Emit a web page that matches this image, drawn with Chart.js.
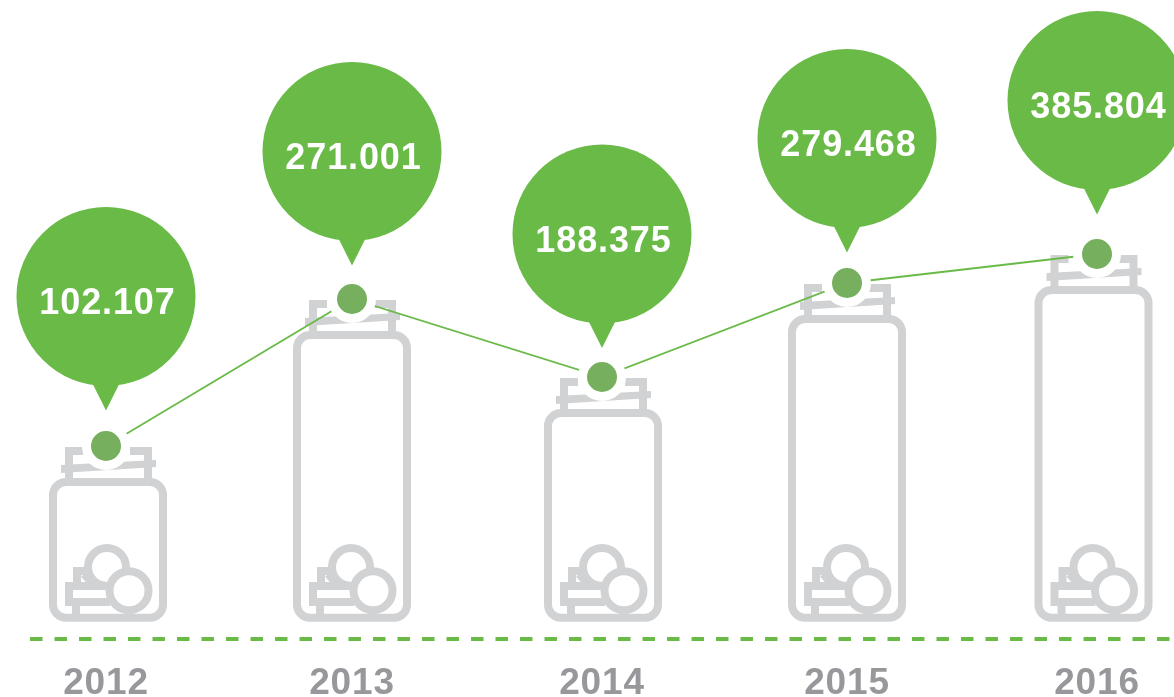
<!DOCTYPE html>
<html><head><meta charset="utf-8">
<style>html,body{margin:0;padding:0;background:#fff;overflow:hidden}canvas{display:block}</style>
<script src="https://cdn.jsdelivr.net/npm/chart.js@4"></script>
</head><body><canvas id="c" width="1174" height="697"></canvas>
<script>
const years = [2012, 2013, 2014, 2015, 2016];
const amounts = [102.107, 271.001, 188.375, 279.468, 385.804];
// The source graphic is not to scale: how high each amount sits above the dashed baseline.
const drawnHeights = [193, 340, 262, 356, 385];
const yearStops = [76, 322, 572, 817, 1067];
const balloonLift = [149.5, 147.5, 143, 144.5, 153.5];
const jarShift = [2, 0, 1, 0, -3.5];

const GREEN = '#6aba48', DOT = '#76b05e', JAR = '#d1d2d4', LABEL = '#98989c';
const AREA_H = 639, AREA_W = 1144;

class KnotScale extends Chart.LinearScale {
  static id = 'knot';
  static defaults = Chart.LinearScale.defaults;
  getPixelForValue(v) {
    const k = this.options.knots;
    let d = k[k.length - 1][1];
    if (v <= k[0][0]) d = k[0][1];
    for (let i = 1; i < k.length; i++) {
      if (v <= k[i][0] && v >= k[i - 1][0]) {
        d = k[i - 1][1] + (v - k[i - 1][0]) / (k[i][0] - k[i - 1][0]) * (k[i][1] - k[i - 1][1]);
        break;
      }
    }
    return this.getPixelForDecimal(d);
  }
}
Chart.register(KnotScale);

const xKnots = years.map((y, i) => [y, yearStops[i] / AREA_W]);
const yKnots = [[0, 0]].concat(amounts.map((a, i) => [a, drawnHeights[i] / AREA_H]).sort((p, q) => p[0] - q[0]));

function drawJar(ctx, cx, py) {
  const bottom = 617.7, top = py + 36;
  ctx.save();
  ctx.strokeStyle = JAR; ctx.fillStyle = JAR; ctx.lineWidth = 8;
  // neck posts and stubs
  ctx.beginPath();
  ctx.moveTo(cx - 25, py + 5); ctx.lineTo(cx - 39, py + 5); ctx.lineTo(cx - 39, top);
  ctx.moveTo(cx + 22, py + 5); ctx.lineTo(cx + 40, py + 5); ctx.lineTo(cx + 40, top);
  ctx.stroke();
  // slanted lip
  ctx.beginPath();
  ctx.moveTo(cx - 47, py + 19); ctx.lineTo(cx + 48, py + 14);
  ctx.lineTo(cx + 48, py + 21); ctx.lineTo(cx - 47, py + 27); ctx.closePath(); ctx.fill();
  // body
  ctx.beginPath(); ctx.roundRect(cx - 55, top, 110, bottom - top, 13); ctx.stroke();
  // upper coin
  ctx.beginPath(); ctx.arc(cx - 1, 567, 19, 0, Math.PI * 2); ctx.stroke();
  // stacked bars
  ctx.beginPath();
  ctx.moveTo(cx - 31, 582); ctx.lineTo(cx - 31, 571); ctx.lineTo(cx - 21, 571);
  ctx.moveTo(cx - 24, 574); ctx.lineTo(cx - 13, 586);
  ctx.stroke();
  ctx.beginPath();
  ctx.moveTo(cx + 2, 586); ctx.lineTo(cx - 39, 586); ctx.lineTo(cx - 39, 602); ctx.lineTo(cx + 2, 602);
  ctx.moveTo(cx - 32, 606); ctx.lineTo(cx - 32, 618);
  ctx.stroke();
  // front coin
  ctx.beginPath(); ctx.arc(cx + 21, 590.7, 19.5, 0, Math.PI * 2);
  ctx.fillStyle = '#fff'; ctx.fill(); ctx.stroke();
  ctx.restore();
}

function drawBalloon(ctx, x, py, lift, text) {
  const cy = py - lift, r = 89.5, tip = cy + 114;
  ctx.save();
  ctx.fillStyle = GREEN;
  ctx.beginPath(); ctx.arc(x, cy, r, 0, Math.PI * 2); ctx.fill();
  ctx.beginPath(); ctx.moveTo(x - 15, cy + 84); ctx.lineTo(x, tip); ctx.lineTo(x + 15, cy + 84); ctx.closePath(); ctx.fill();
  ctx.fillStyle = '#fff';
  ctx.font = 'bold 36px "Liberation Sans", Arial, sans-serif';
  ctx.letterSpacing = '0.9px';
  ctx.textAlign = 'center'; ctx.textBaseline = 'middle';
  ctx.fillText(text, x + 1.5, cy + 8);
  ctx.restore();
}

const jarsAndBalloons = {
  id: 'jarsAndBalloons',
  beforeDraw(chart) { chart.ctx.letterSpacing = '0.8px'; },
  beforeDatasetsDraw(chart) {
    chart.getDatasetMeta(0).data.forEach((p, i) => drawJar(chart.ctx, p.x + jarShift[i], p.y));
  },
  afterDatasetsDraw(chart) {
    chart.getDatasetMeta(0).data.forEach((p, i) => drawBalloon(chart.ctx, p.x, p.y, balloonLift[i], amounts[i].toFixed(3)));
  }
};

new Chart(document.getElementById('c'), {
  type: 'line',
  data: {
    datasets: [{
      data: years.map((y, i) => ({ x: y, y: amounts[i] })),
      borderColor: GREEN, borderWidth: 1.8, tension: 0, clip: false,
      pointRadius: 19.5, pointBorderWidth: 9,
      pointBackgroundColor: DOT, pointBorderColor: '#fff'
    }]
  },
  plugins: [jarsAndBalloons],
  options: {
    responsive: false, animation: false,
    layout: { autoPadding: false, padding: { left: 30, right: 0, top: 0, bottom: 0 } },
    plugins: { legend: { display: false }, tooltip: { enabled: false }, title: { display: false } },
    events: [],
    scales: {
      x: {
        type: 'knot', knots: xKnots, min: 2012, max: 2016,
        afterBuildTicks(a) { a.ticks = years.map(v => ({ value: v })); },
        afterFit(a) { a.height = 58; },
        grid: { display: false }, border: { display: false },
        ticks: {
          autoSkip: false, maxRotation: 0, minRotation: 0, padding: 15, color: LABEL,
          font: { family: '"Liberation Sans", Arial, sans-serif', weight: 'bold', size: 37 },
          callback: v => String(v)
        }
      },
      y: {
        type: 'knot', knots: yKnots, min: 0, max: 400,
        afterBuildTicks(a) { a.ticks = [{ value: 0 }]; },
        afterFit(a) { a.width = 0; },
        ticks: { display: false },
        grid: { color: GREEN, lineWidth: 4, drawTicks: false },
        border: { display: false, dash: [12.5, 12] }
      }
    }
  }
});
</script></body></html>
